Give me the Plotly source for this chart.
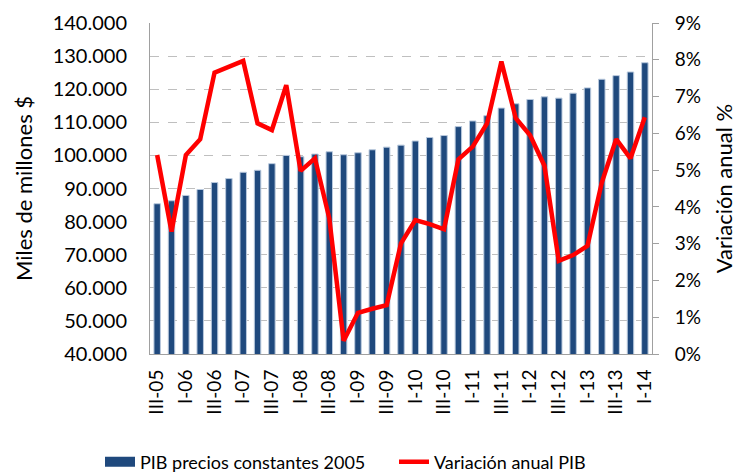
import plotly.graph_objects as go

quarters = ["III-05", "IV-05",
            "I-06", "II-06", "III-06", "IV-06",
            "I-07", "II-07", "III-07", "IV-07",
            "I-08", "II-08", "III-08", "IV-08",
            "I-09", "II-09", "III-09", "IV-09",
            "I-10", "II-10", "III-10", "IV-10",
            "I-11", "II-11", "III-11", "IV-11",
            "I-12", "II-12", "III-12", "IV-12",
            "I-13", "II-13", "III-13", "IV-13",
            "I-14"]

pib = [85400, 86300, 87900, 89700, 91800, 93000, 94900, 95500, 97500, 100000,
       99600, 100400, 101100, 100200, 100800, 101700, 102500, 103100, 104350, 105400,
       106000, 108700, 110400, 112000, 114300, 115600, 116900, 117700, 117300, 118800,
       120400, 123000, 124100, 125200, 128000]

variacion = [5.41, 3.33, 5.41, 5.84, 7.65, 7.80, 7.97, 6.27, 6.09, 7.31,
             4.98, 5.32, 3.69, 0.36, 1.12, 1.23, 1.33, 3.01, 3.64, 3.53,
             3.39, 5.29, 5.64, 6.27, 7.95, 6.41, 5.95, 5.12, 2.53, 2.69,
             2.94, 4.66, 5.84, 5.32, 6.44]

tick_labels = quarters[::2]

FONT = "Lato, Carlito, Calibri, sans-serif"
BLUE = "#1F497D"
RED = "#FF0000"

fig = go.Figure()
fig.add_trace(go.Bar(
    x=quarters, y=pib, name="PIB precios constantes 2005",
    marker=dict(color=BLUE, line=dict(color="#B9C9DD", width=1)),
    width=0.45, showlegend=False,
))
# legend swatch for the bar series (wide rectangle like the original)
fig.add_trace(go.Scatter(
    x=[None], y=[None], name="PIB precios constantes 2005",
    mode="lines", line=dict(color=BLUE, width=13), showlegend=True,
    legend="legend",
))
fig.add_trace(go.Scatter(
    x=quarters, y=[v / 100 for v in variacion], name="Variación anual PIB",
    mode="lines", line=dict(color=RED, width=4.5), yaxis="y2",
    legend="legend2",
))

legend_common = dict(orientation="h", xref="container", yref="container",
                     xanchor="left", y=18 / 472, yanchor="middle",
                     font=dict(size=18), itemwidth=30,
                     bgcolor="rgba(0,0,0,0)")

fig.update_layout(
    width=746, height=472,
    margin=dict(l=142, r=102, t=15, b=126),
    paper_bgcolor="white", plot_bgcolor="white",
    separators=",.",
    font=dict(family=FONT, size=19, color="black"),
    showlegend=True,
    legend=dict(x=92 / 746, **legend_common),
    legend2=dict(x=386 / 746, **legend_common),
    xaxis=dict(type="category", tickmode="array", tickvals=tick_labels,
               ticktext=tick_labels, tickangle=-90, showline=True,
               linecolor="#A0A0A0", linewidth=1, ticks="", showgrid=False,
               range=[-0.5, 34.5], automargin=False, ticklabelstandoff=7),
    yaxis=dict(range=[40000, 140000], dtick=10000, tickformat=",.0f",
               showline=True, linecolor="#A0A0A0", linewidth=1,
               showgrid=True, gridcolor="#BFBFBF", griddash="dash", gridwidth=1,
               zeroline=False, ticks="", tickfont=dict(size=20),
               automargin=False, ticklabelstandoff=18,
               title=dict(text="Miles de millones $", font=dict(size=22), standoff=13)),
    yaxis2=dict(range=[0, 0.09], dtick=0.01, tickformat=".0%", overlaying="y",
                side="right", showline=True, linecolor="#A0A0A0", linewidth=1,
                showgrid=False, zeroline=False, ticks="outside", ticklen=6,
                tickcolor="#A0A0A0", tickfont=dict(size=19),
                automargin=False, ticklabelstandoff=12,
                title=dict(text="Variación anual %", font=dict(size=22), standoff=16)),
)

fig.write_html("out.html")
